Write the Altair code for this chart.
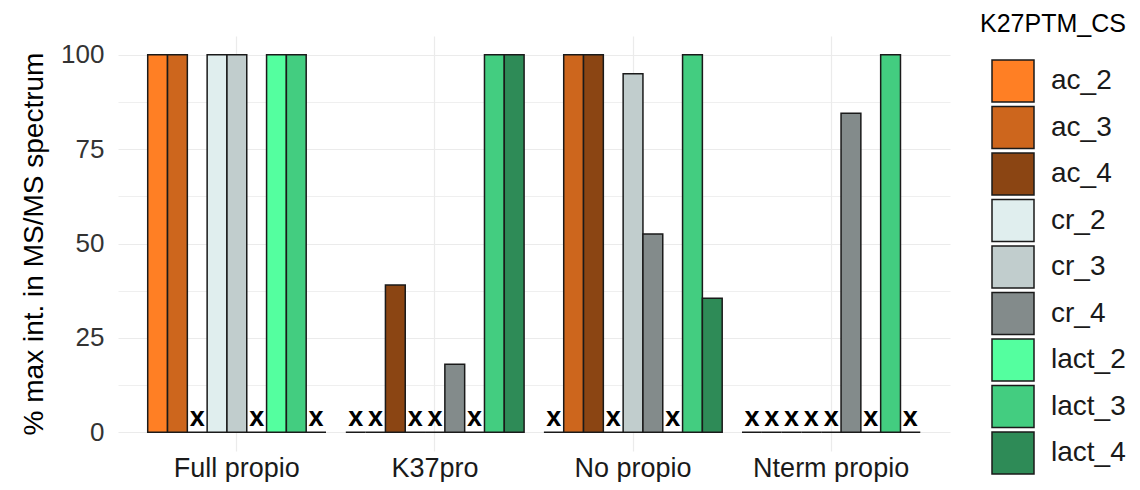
import altair as alt
import pandas as pd

groups = ["Full propio", "K37pro", "No propio", "Nterm propio"]
series = ["ac_2", "ac_3", "ac_4", "cr_2", "cr_3", "cr_4", "lact_2", "lact_3", "lact_4"]
colors = ["#FF7F24", "#CD661D", "#8B4513", "#E0EEEE", "#C1CDCD", "#838B8B",
          "#54FF9F", "#43CD80", "#2E8B57"]

# None = not detected (drawn as "x" at zero)
full_propio = [100, 100, None, 100, 100, None, 100, 100, None]
k37pro = [None, None, 39, None, None, 18, None, 100, 100]
no_propio = [None, 100, 100, None, 95, 52.5, None, 100, 35.5]
nterm_propio = [None, None, None, None, None, 84.5, None, 100, None]

y_ticks = [0, 12.5, 25, 37.5, 50, 62.5, 75, 87.5, 100]

rows = []
for g, vals in zip(groups, [full_propio, k37pro, no_propio, nterm_propio]):
    for s, v in zip(series, vals):
        rows.append({"group": g, "series": s,
                     "value": 0 if v is None else v,
                     "missing": "x" if v is None else ""})
df = pd.DataFrame(rows)

FONT = "Liberation Sans"

x_enc = alt.X(
    "group:N", sort=groups, title=None,
    scale=alt.Scale(paddingInner=0.1, paddingOuter=0.15),
    axis=alt.Axis(labelFontSize=27, labelColor="#1a1a1a", labelPadding=4,
                  ticks=False, domain=False, grid=True, gridColor="#EBEBEB",
                  gridWidth=1.2, bandPosition=0.5, labelAngle=0),
)
xo_enc = alt.XOffset("series:N", sort=series,
                     scale=alt.Scale(paddingInner=0, paddingOuter=0))
y_enc = alt.Y(
    "value:Q",
    scale=alt.Scale(domain=[-5, 105], nice=False, zero=False),
    axis=alt.Axis(values=y_ticks,
                  labelExpr="datum.value % 25 == 0 ? datum.label : ''",
                  title="% max int. in MS/MS spectrum",
                  titleFontSize=28, titleFontWeight="normal", titleColor="#000000",
                  titlePadding=12,
                  labelFontSize=26, labelColor="#333333", labelPadding=14,
                  ticks=False, domain=False, gridColor="#EBEBEB",
                  gridWidth={"condition": {"test": "datum.value % 25 == 0", "value": 1.2},
                             "value": 0.8}),
)

bars = alt.Chart(df).mark_bar(stroke="#1a1a1a", strokeWidth=1.5).encode(
    x=x_enc,
    xOffset=xo_enc,
    y=y_enc,
    y2=alt.datum(0),
    fill=alt.Fill(
        "series:N", sort=series,
        scale=alt.Scale(domain=series, range=colors),
        legend=alt.Legend(
            title="K27PTM_CS", orient="none", legendX=862, legendY=-24,
            titleFontSize=25, titleFontWeight="normal", titleColor="#000000",
            titlePadding=22,
            labelFontSize=28, labelColor="#1a1a1a", labelOffset=16,
            symbolType="square", symbolSize=1764,
            symbolStrokeColor="#1a1a1a", symbolStrokeWidth=1.5,
            symbolOffset=11, rowPadding=-1.5,
        ),
    ),
)

marks = alt.Chart(df).transform_filter("datum.missing == 'x'").mark_text(
    fontSize=27, fontWeight="bold", color="#000000", baseline="alphabetic",
    dy=-6, font=FONT,
).encode(
    x=alt.X("group:N", sort=groups),
    xOffset=alt.XOffset("series:N", sort=series),
    y=alt.Y("value:Q"),
    text="missing:N",
)

chart = (bars + marks).properties(
    width=832, height=415,
    autosize=alt.AutoSizeParams(type="none"),
    padding={"left": 110, "top": 28, "right": 180, "bottom": 31},
    background="white",
).configure(font=FONT).configure_view(stroke=None)

chart.save("out.html", embed_options={"renderer": "svg", "actions": False})
